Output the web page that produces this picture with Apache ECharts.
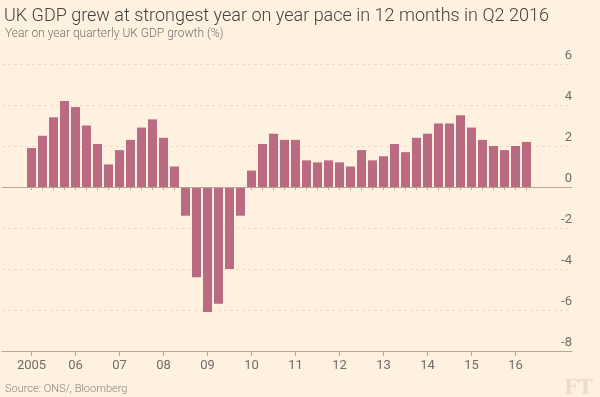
<!DOCTYPE html>
<html>

<head>
    <meta charset="utf-8" />
    <script src="https://cdn.jsdelivr.net/npm/echarts@6/dist/echarts.min.js"></script>
    <style>
        html, body { margin: 0; padding: 0; background: #fff1e0; }
    </style>
</head>

<body>
    <div id="main" style="width: 600px; height: 397px;"></div>
    <script type="text/javascript">
        // year labels under the first quarter of each year
        var years = ['2005', '06', '07', '08', '09', '10', '11', '12', '13', '14', '15', '16'];
        var quarters = ['Q1', 'Q2', 'Q3', 'Q4'];
        // year on year GDP growth, %, 2005 Q1 .. 2016 Q2
        var growth = [
            1.9, 2.5, 3.4, 4.2,
            3.9, 3.0, 2.1, 1.1,
            1.8, 2.3, 2.9, 3.3,
            2.4, 1.0, -1.4, -4.4,
            -6.1, -5.7, -4.0, -1.4,
            0.8, 2.1, 2.6, 2.3,
            2.3, 1.3, 1.2, 1.3,
            1.2, 1.0, 1.8, 1.3,
            1.5, 2.1, 1.7, 2.4,
            2.6, 3.1, 3.1, 3.5,
            2.9, 2.3, 2.0, 1.8,
            2.0, 2.2
        ];
        var yMin = -8, yMax = 6, yStep = 2;

        var categories = [];
        for (var i = 0; i < growth.length; i++) {
            categories.push(years[Math.floor(i / 4)] + ' ' + quarters[i % 4]);
        }

        var myChart = echarts.init(document.getElementById('main'));
        var font = 'Roboto';
        var lineCol = '#b6a696';

        var option = {
            backgroundColor: '#fff1e0',
            animation: false,
            title: [
                {
                    text: 'UK GDP grew at strongest year on year pace in 12 months in Q2 2016',
                    left: -1, top: 2,
                    textStyle: { fontFamily: font, fontWeight: 300, fontSize: 18, color: '#43413e' }
                },
                {
                    text: 'Year on year quarterly UK GDP growth (%)',
                    left: 0, top: 23,
                    textStyle: { fontFamily: font, fontWeight: 300, fontSize: 12, color: '#74726c' }
                },
                {
                    text: 'Source: ONS/, Bloomberg',
                    left: 0, top: 379,
                    textStyle: { fontFamily: font, fontWeight: 300, fontSize: 11, color: '#85827b' }
                },
                {
                    text: 'FT',
                    right: 2, top: 374,
                    textStyle: { fontFamily: 'DejaVu Serif', fontWeight: 'bold', fontSize: 20, color: '#ebdccb' }
                }
            ],
            grid: [
                { left: 2, right: 28, top: 64, bottom: 46 },
                { left: 26, width: 506, top: 64, bottom: 46 }
            ],
            xAxis: [
                {
                    gridIndex: 0, type: 'value', min: 0, max: 1, position: 'bottom',
                    axisLine: { show: true, onZero: false, lineStyle: { color: lineCol, width: 1 } },
                    axisTick: { show: false }, axisLabel: { show: false }, splitLine: { show: false }
                },
                {
                    gridIndex: 1, type: 'category', data: categories, position: 'bottom',
                    axisLine: { show: false },
                    axisTick: { show: true, alignWithLabel: true, interval: 0, length: 3, lineStyle: { color: lineCol } },
                    axisLabel: { show: false }
                },
                {
                    gridIndex: 1, type: 'category', data: categories, position: 'bottom',
                    axisLine: { show: false },
                    axisTick: { show: true, alignWithLabel: true, interval: 3, length: 5, lineStyle: { color: lineCol } },
                    axisLabel: {
                        show: true, interval: 3, margin: 8,
                        fontFamily: font, fontSize: 13, color: '#6f6d67',
                        formatter: function (v) { return v.split(' ')[0]; }
                    }
                }
            ],
            yAxis: [
                {
                    gridIndex: 0, type: 'value', position: 'right',
                    min: yMin, max: yMax, interval: yStep,
                    axisLine: { show: false }, axisTick: { show: false },
                    axisLabel: {
                        inside: true, margin: 0, verticalAlign: 'bottom', padding: [0, 0, 2, 0],
                        fontFamily: font, fontSize: 13, color: '#6f6d67'
                    },
                    splitLine: { show: true, lineStyle: { color: '#e9dccd', type: [3, 3], width: 1 } }
                },
                {
                    gridIndex: 1, type: 'value', min: yMin, max: yMax, interval: yStep, show: false
                }
            ],
            series: [
                {
                    name: 'GDP growth',
                    type: 'bar',
                    xAxisIndex: 1, yAxisIndex: 1,
                    barWidth: 9,
                    data: growth,
                    itemStyle: { color: '#bb6b81' },
                    z: 2
                },
                {
                    type: 'line',
                    xAxisIndex: 0, yAxisIndex: 0,
                    data: [],
                    z: 5,
                    markLine: {
                        silent: true, symbol: 'none',
                        label: { show: false },
                        lineStyle: { color: lineCol, type: 'solid', width: 1 },
                        data: [{ yAxis: 0 }]
                    }
                }
            ]
        };

        myChart.setOption(option);
    </script>
</body>

</html>
